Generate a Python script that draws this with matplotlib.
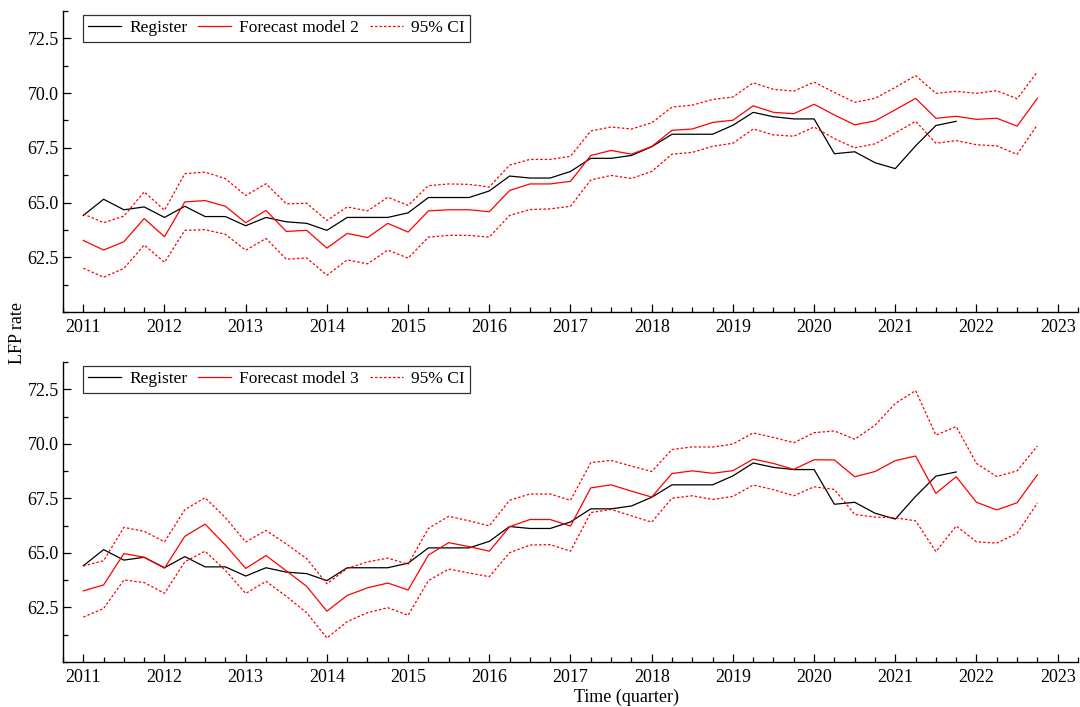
import matplotlib
matplotlib.use("Agg")
import matplotlib.pyplot as plt
from matplotlib.ticker import MultipleLocator, FormatStrFormatter
import numpy as np

plt.rcParams['font.family'] = ['Liberation Serif', 'DejaVu Serif']

# quarterly values 2011Q1 ...
register = [64.41, 65.15, 64.67, 64.80, 64.32, 64.83, 64.36, 64.36,
            63.94, 64.32, 64.12, 64.05, 63.73, 64.32, 64.32, 64.32,
            64.53, 65.23, 65.23, 65.23, 65.53, 66.21, 66.12, 66.12,
            66.42, 67.02, 67.02, 67.15, 67.55, 68.12, 68.12, 68.12,
            68.53, 69.12, 68.92, 68.82, 68.82, 67.23, 67.32, 66.82,
            66.55, 67.59, 68.52, 68.71]

fc2 = [63.27, 62.83, 63.21, 64.27, 63.44, 65.03, 65.09, 64.83,
       64.08, 64.64, 63.68, 63.73, 62.92, 63.59, 63.40, 64.05,
       63.65, 64.62, 64.67, 64.67, 64.58, 65.55, 65.85, 65.85,
       65.97, 67.15, 67.38, 67.21, 67.56, 68.30, 68.36, 68.66,
       68.76, 69.42, 69.12, 69.06, 69.49, 69.00, 68.55, 68.73,
       69.24, 69.76, 68.85, 68.94, 68.80, 68.85, 68.49, 69.76]
fc2_hi = [64.48, 64.08, 64.38, 65.49, 64.65, 66.32, 66.39, 66.09,
          65.32, 65.86, 64.94, 64.97, 64.18, 64.80, 64.62, 65.24,
          64.87, 65.77, 65.85, 65.83, 65.71, 66.71, 66.97, 66.97,
          67.11, 68.27, 68.45, 68.36, 68.64, 69.36, 69.45, 69.71,
          69.82, 70.47, 70.17, 70.09, 70.50, 70.03, 69.58, 69.76,
          70.26, 70.80, 69.99, 70.08, 69.99, 70.11, 69.74, 70.97]
fc2_lo = [62.00, 61.59, 61.99, 63.06, 62.27, 63.73, 63.76, 63.55,
          62.82, 63.36, 62.41, 62.47, 61.68, 62.38, 62.20, 62.83,
          62.46, 63.42, 63.50, 63.50, 63.42, 64.41, 64.68, 64.71,
          64.83, 66.03, 66.24, 66.10, 66.42, 67.21, 67.29, 67.57,
          67.71, 68.36, 68.09, 68.03, 68.45, 67.92, 67.50, 67.68,
          68.18, 68.71, 67.71, 67.83, 67.64, 67.59, 67.20, 68.55]

fc3 = [63.26, 63.53, 64.97, 64.80, 64.30, 65.76, 66.32, 65.36,
       64.29, 64.88, 64.18, 63.47, 62.33, 63.05, 63.40, 63.62,
       63.30, 64.90, 65.47, 65.29, 65.08, 66.20, 66.53, 66.53,
       66.23, 67.98, 68.12, 67.83, 67.56, 68.64, 68.76, 68.65,
       68.77, 69.30, 69.10, 68.83, 69.27, 69.26, 68.49, 68.73,
       69.23, 69.44, 67.73, 68.49, 67.32, 66.97, 67.30, 68.58]
fc3_hi = [64.40, 64.64, 66.17, 65.99, 65.51, 66.98, 67.53, 66.62,
          65.50, 66.03, 65.41, 64.74, 63.59, 64.29, 64.59, 64.76,
          64.48, 66.12, 66.68, 66.47, 66.24, 67.41, 67.70, 67.70,
          67.41, 69.14, 69.24, 68.98, 68.73, 69.74, 69.86, 69.85,
          69.99, 70.50, 70.29, 70.05, 70.51, 70.59, 70.21, 70.85,
          71.85, 72.44, 70.40, 70.79, 69.10, 68.50, 68.76, 69.90]
fc3_lo = [62.06, 62.45, 63.76, 63.64, 63.15, 64.59, 65.08, 64.20,
          63.14, 63.70, 63.01, 62.26, 61.10, 61.85, 62.26, 62.49,
          62.14, 63.73, 64.26, 64.08, 63.91, 65.01, 65.36, 65.38,
          65.08, 66.85, 66.99, 66.70, 66.41, 67.51, 67.62, 67.45,
          67.59, 68.11, 67.90, 67.62, 68.03, 67.91, 66.76, 66.64,
          66.61, 66.47, 65.06, 66.23, 65.51, 65.45, 65.90, 67.29]

t_fc = 2011 + np.arange(len(fc2)) / 4
t_reg = 2011 + np.arange(len(register)) / 4

fig = plt.figure(figsize=(10.8, 7.07), dpi=100)
ax1 = fig.add_axes([63 / 1080, 1 - 312 / 707, 1015 / 1080, 301 / 707])
ax2 = fig.add_axes([63 / 1080, 1 - 662 / 707, 1015 / 1080, 300 / 707])

panels = [(ax1, fc2, fc2_hi, fc2_lo, "Forecast model 2"),
          (ax2, fc3, fc3_hi, fc3_lo, "Forecast model 3")]

for ax, fc, hi, lo, name in panels:
    ax.plot(t_reg, register, color="black", lw=0.9, label="Register")
    ax.plot(t_fc, fc, color="red", lw=0.9, label=name)
    ax.plot(t_fc, hi, color="red", lw=0.9, ls=(0, (2, 1.6)), label="95% CI")
    ax.plot(t_fc, lo, color="red", lw=0.9, ls=(0, (2, 1.6)))

    ax.set_xlim(2010.75, 2023.25)
    ax.set_ylim(60, 73.75)
    ax.spines["top"].set_visible(False)
    ax.spines["right"].set_visible(False)
    for s in ("left", "bottom"):
        ax.spines[s].set_linewidth(1.0)
    ax.xaxis.set_major_locator(MultipleLocator(1))
    ax.xaxis.set_minor_locator(MultipleLocator(0.25))
    ax.yaxis.set_minor_locator(MultipleLocator(1.25))
    ax.set_yticks([62.5, 65.0, 67.5, 70.0, 72.5])
    ax.yaxis.set_major_formatter(FormatStrFormatter("%.1f"))
    ax.tick_params(which="major", direction="in", length=6, width=0.9,
                   labelsize=13)
    ax.tick_params(which="minor", direction="in", length=3.5, width=0.9)
    ax.tick_params(axis="x", which="major", pad=5)
    ax.tick_params(axis="y", which="major", pad=3)

    leg = ax.legend(loc="upper left", bbox_to_anchor=(20 / 1015, 1 - 4 / 301),
                    ncol=3, fontsize=12.5, frameon=True, fancybox=False,
                    borderaxespad=0, handlelength=1.9, handletextpad=0.45,
                    columnspacing=0.65, borderpad=0.3)
    leg.get_frame().set_edgecolor("black")
    leg.get_frame().set_linewidth(0.9)

fig.text(17 / 1080, 1 - 333 / 707, "LFP rate", rotation=90,
         ha="center", va="center", fontsize=13)
fig.text(627 / 1080, 1 - 697 / 707, "Time (quarter)",
         ha="center", va="center", fontsize=13)

fig.savefig("out.png", dpi=100)
